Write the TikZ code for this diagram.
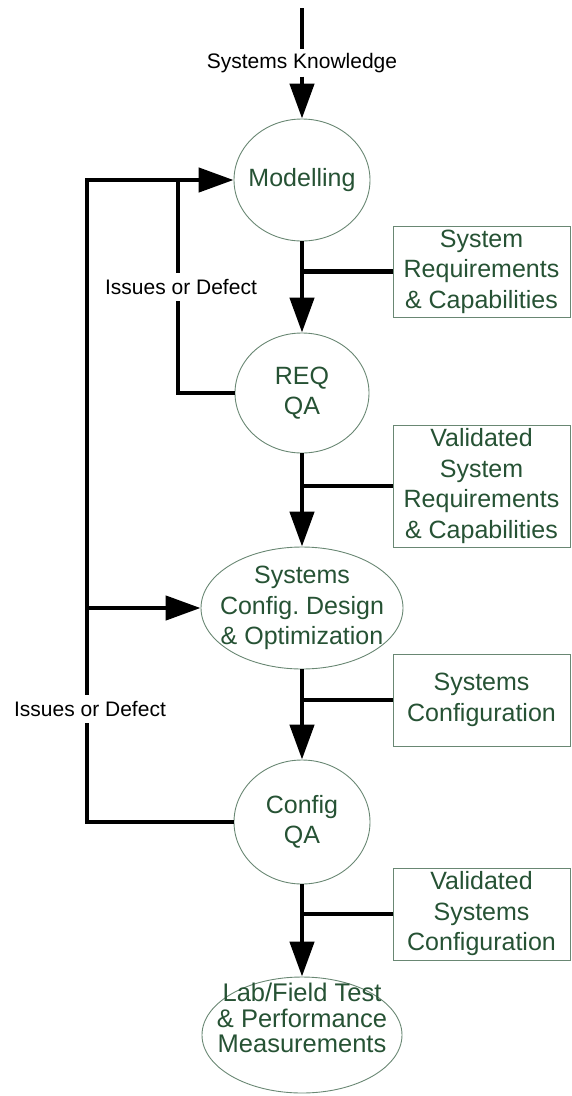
\documentclass[tikz,border=0pt]{standalone}
\usepackage{fontspec}
\setmainfont{Liberation Sans}
\usetikzlibrary{shapes.geometric,arrows.meta}
\definecolor{gtxt}{RGB}{38,82,52}
\definecolor{gline}{RGB}{105,135,115}
\frenchspacing
\begin{document}
\begin{tikzpicture}[x=1pt,y=-1pt,
  flow/.style={line width=4.6pt},
  arr/.style={flow,-{Triangle[length=35pt,width=24pt]}},
  proc/.style={ellipse,draw=gline,line width=0.9pt,inner sep=0pt},
  gtext/.style={text=gtxt,align=center,font=\fontsize{25}{30.5}\selectfont,inner sep=0pt},
  databox/.style={draw=gline,line width=0.9pt,minimum width=177pt,inner sep=0pt,
    text=gtxt,align=center,font=\fontsize{25}{30.5}\selectfont},
  lbl/.style={font=\fontsize{21}{25}\selectfont,inner xsep=1pt,inner ysep=0pt,minimum height=28pt}]
\useasboundingbox (0,0) rectangle (572,1096);

% process ellipses
\node[proc,minimum width=136pt,minimum height=122pt,
  label={[gtext]center:Modelling}] (mod) at (302,180) {};
\node[proc,minimum width=134pt,minimum height=120pt,
  label={[gtext]center:REQ\\QA}] (req) at (302,393) {};
\node[proc,minimum width=202pt,minimum height=122pt,
  label={[gtext]center:Systems\\Config. Design\\\& Optimization}] (sys) at (302,608) {};
\node[proc,minimum width=136pt,minimum height=124pt,
  label={[gtext]center:Config\\QA}] (cqa) at (302,822) {};
\node[proc,minimum width=200pt,minimum height=116pt,
  label={[gtext,font=\fontsize{25.5}{25.5}\selectfont,yshift=17pt]center:Lab/Field Test\\\& Performance\\Measurements}] (lab) at (302,1035) {};

% data boxes
\node[databox,minimum height=91pt] (b1) at (481.5,271.5) {System\\Requirements\\\& Capabilities};
\node[databox,minimum height=122pt] (b2) at (481.5,486) {Validated\\System\\Requirements\\\& Capabilities};
\node[databox,minimum height=92pt] (b3) at (481.5,700) {Systems\\Configuration};
\node[databox,minimum height=92pt] (b4) at (481.5,914) {Validated\\Systems\\Configuration};

% input
\coordinate (src) at (302,8);
\node[lbl,minimum height=27pt] (sk) at (302,63) {Systems Knowledge};
\draw[flow] (src) -- (sk.north);
\draw[arr] (sk.south) -- (mod.north);

% main flow
\draw[arr] (mod.south) -- (req.north);
\draw[arr] (req.south) -- (sys.north);
\draw[arr] (sys.south) -- (cqa.north);
\draw[arr] (cqa.south) -- (lab.north);

% data branches
\draw[flow] (b1.west) -- (b1.west -| mod.south);
\draw[flow] (b2.west) -- (b2.west -| req.south);
\draw[flow] (b3.west) -- (b3.west -| sys.south);
\draw[flow] (b4.west) -- (b4.west -| cqa.south);

% feedback loops
\coordinate (c0) at (87,180);
\coordinate (j1) at (178,180);
\draw[flow] (req.west) -| (j1);
\draw[arr] (cqa.west) -| (c0) -- (mod.west);
\draw[arr] (sys.west -| c0) -- (sys.west);

% feedback labels
\node[lbl,fill=white] (iss1) at (181,287) {Issues or Defect};
\node[lbl,fill=white] (iss2) at (90,709) {Issues or Defect};
\end{tikzpicture}
\end{document}
